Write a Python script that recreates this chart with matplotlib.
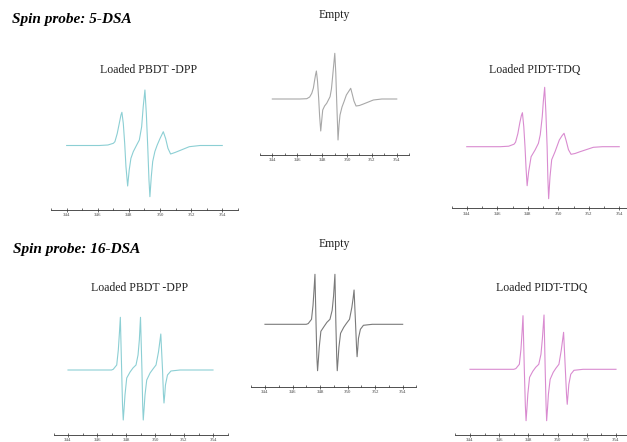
import matplotlib
matplotlib.use('Agg')
import matplotlib.pyplot as plt

# EPR spectra: field (mT) and intensity (arb. units)

# 5-DSA, loaded PBDT-DPP
field_5_pbdt = [344.0, 346.1, 346.65, 347.0, 347.1, 347.25, 347.38, 347.49, 347.55, 347.64,
                347.73, 347.81, 347.92, 348.02, 348.13, 348.28, 348.5, 348.67, 348.82, 348.92,
                349.03, 349.12, 349.21, 349.29, 349.35, 349.44, 349.53, 349.67, 349.82, 350.0,
                350.21, 350.36, 350.51, 350.68, 350.96, 351.28, 351.88, 352.57, 354.0]
int_5_pbdt = [0, 0, 0.5, 2.2, 3.8, 12, 22, 30.5, 33.2, 22,
              2, -21, -40.5, -24.5, -12.8, -6.2, 0.5, 5.5, 18.8, 38.8,
              55.5, 32, -1, -34.5, -51.2, -31, -16, -6, 0.5, 7,
              13.8, 7, -2.8, -8.5, -7, -5, -1.2, 0, 0]

# 5-DSA, empty
field_5_empty = [344.0, 346.2, 346.77, 347.0, 347.17, 347.3, 347.38, 347.47, 347.54, 347.63,
                 347.72, 347.8, 347.89, 347.98, 348.05, 348.2, 348.37, 348.64, 348.75, 348.82,
                 349.02, 349.1, 349.17, 349.24, 349.28, 349.36, 349.44, 349.6, 349.76, 349.95,
                 350.3, 350.42, 350.56, 350.73, 351.0, 351.32, 352.12, 352.8, 354.0]
int_5_empty = [0, 0, 0.3, 2, 5.7, 11, 17.3, 24, 28, 18,
               1.6, -17, -32, -20, -11, -7, -4.3, 2.3, 10, 19,
               45.7, 26, -1, -26, -41, -26, -16, -8, -2.7, 4,
               10.7, 5, -2, -7, -6.5, -5, -1, 0, 0]

# 5-DSA, loaded PIDT-TDQ
field_5_pidt = [344.0, 346.2, 346.75, 347.1, 347.2, 347.35, 347.48, 347.58, 347.65, 347.74,
                347.82, 347.89, 347.96, 348.06, 348.22, 348.48, 348.7, 348.82, 348.95, 349.02,
                349.11, 349.19, 349.27, 349.32, 349.37, 349.46, 349.57, 349.79, 350.07, 350.25,
                350.38, 350.52, 350.67, 350.84, 351.1, 351.43, 352.3, 352.9, 354.0]
int_5_pidt = [0, 0, 0.5, 2.5, 4.5, 13, 24, 31, 34, 20,
              0, -22, -39, -25, -10, -3.3, 3.4, 12, 30, 45,
              59.4, 34, 0, -32, -52, -30, -13, -5, 6.7, 11,
              13.4, 6, -3, -7.6, -6.8, -5, -0.6, 0, 0]

# 16-DSA, loaded PBDT-DPP
field_16_pbdt = [344.0, 347.0, 347.12, 347.36, 347.47, 347.55, 347.61, 347.7, 347.76, 347.81,
                 347.87, 347.93, 348.05, 348.28, 348.48, 348.69, 348.83, 348.92, 349.0, 349.1,
                 349.15, 349.19, 349.25, 349.31, 349.43, 349.66, 349.86, 350.07, 350.24, 350.33,
                 350.4, 350.52, 350.58, 350.62, 350.67, 350.72, 350.86, 351.1, 351.72, 354.0]
int_16_pbdt = [0, 0, 0.7, 5, 20, 38, 52.7, 0, -35, -50,
               -38, -25, -8, -2, 2, 5, 15, 30, 52.7, 0,
               -35, -50, -38, -25, -10, -3, 1, 5, 18, 28,
               36, 0, -24, -33, -25, -15, -5, -1, 0, 0]

# 16-DSA, empty
field_16_empty = [344.0, 347.0, 347.14, 347.38, 347.49, 347.57, 347.63, 347.71, 347.77, 347.82,
                  347.88, 347.94, 348.06, 348.3, 348.5, 348.72, 348.88, 348.98, 349.08, 349.15,
                  349.21, 349.25, 349.31, 349.37, 349.49, 349.72, 349.92, 350.14, 350.31, 350.4,
                  350.47, 350.58, 350.65, 350.69, 350.74, 350.79, 350.93, 351.15, 351.8, 354.0]
int_16_empty = [0, 0, 0.7, 5, 19, 36, 50, 0, -33, -46.4,
                -35, -23, -7, -2, 2, 5, 14, 28, 50, 0,
                -33, -46.4, -35, -23, -9, -3, 1, 5, 17, 26,
                34.3, 0, -23, -32.4, -24, -14, -5, -1, 0, 0]

# 16-DSA, loaded PIDT-TDQ
field_16_pidt = [344.0, 347.0, 347.14, 347.38, 347.49, 347.57, 347.63, 347.72, 347.79, 347.84,
                 347.9, 347.96, 348.08, 348.3, 348.5, 348.71, 348.86, 348.96, 349.07, 349.15,
                 349.21, 349.25, 349.31, 349.37, 349.49, 349.7, 349.88, 350.09, 350.25, 350.34,
                 350.41, 350.53, 350.61, 350.66, 350.71, 350.77, 350.9, 351.12, 351.75, 354.0]
int_16_pidt = [0, 0, 0.7, 5, 20, 38, 53.6, 0, -36, -51.4,
               -39, -25, -8, -2, 2, 5, 15, 31, 54.3, 0,
               -36, -51.4, -39, -25, -10, -3, 1, 5, 19, 29,
               37, 0, -25, -35, -26, -15, -5, -1, 0, 0]

titles = ['Loaded PBDT -DPP', 'Empty', 'Loaded PIDT-TDQ',
          'Loaded PBDT -DPP', 'Empty', 'Loaded PIDT-TDQ']
headings = ['Spin probe: 5-DSA', 'Spin probe: 16-DSA']
major_ticks = [344, 346, 348, 350, 352, 354]
minor_ticks = [343, 345, 347, 349, 351, 353, 355]

cyan = '#8ccfd4'
grey5 = '#a8a8a8'
grey16 = '#7a7a7a'
pink = '#d98bd0'

W, H = 627, 442
fig = plt.figure(figsize=(W / 100, H / 100), dpi=100)
serif = ['Liberation Serif', 'DejaVu Serif']

# panel placement in pixels: left edge (at 343), px per mT, axis line y, baseline y, title centre
panels = [
    (field_5_pbdt, int_5_pbdt, cyan, 51.1, 15.56, 210.0, 145.5, (149, 70)),
    (field_5_empty, int_5_empty, grey5, 259.9, 12.44, 155.0, 99.0, (334, 15)),
    (field_5_pidt, int_5_pidt, pink, 451.5, 15.25, 208.3, 146.7, (535, 70)),
    (field_16_pbdt, int_16_pbdt, cyan, 53.5, 14.5, 434.7, 370.0, (140, 288)),
    (field_16_empty, int_16_empty, grey16, 251.2, 13.77, 386.7, 324.3, (334, 244)),
    (field_16_pidt, int_16_pidt, pink, 455.4, 14.6, 435.0, 369.3, (542, 288)),
]

top_pad = 70
for (fx, fy, color, left, scale, axis_y, base_y, tpos), title in zip(panels, titles):
    width = 12 * scale
    below = axis_y - base_y
    height = below + top_pad
    ax = fig.add_axes([left / W, (H - axis_y) / H, width / W, height / H])
    ax.plot(fx, fy, color=color, lw=0.8)
    ax.set_xlim(343, 355)
    ax.set_ylim(-below, top_pad)
    for s in ['top', 'left', 'right']:
        ax.spines[s].set_visible(False)
    ax.spines['bottom'].set_linewidth(0.6)
    ax.spines['bottom'].set_color('#333333')
    ax.set_yticks([])
    ax.set_xticks(major_ticks)
    ax.set_xticks(minor_ticks, minor=True)
    ax.tick_params(axis='x', which='major', direction='inout', length=3, width=0.5,
                   color='#333333', labelsize=3.5, pad=1, labelcolor='#444444')
    ax.tick_params(axis='x', which='minor', direction='in', length=1.5, width=0.5,
                   color='#333333')
    for lab in ax.get_xticklabels():
        lab.set_family(serif)
    ax.patch.set_alpha(0)
    fig.text(tpos[0] / W, 1 - tpos[1] / H, title, ha='center', va='center',
             fontsize=8.5, family=serif, color='#222222')

fig.text(12 / W, 1 - 20 / H, headings[0], ha='left', va='center', fontsize=11,
         family=serif, weight='bold', style='italic')
fig.text(13 / W, 1 - 250 / H, headings[1], ha='left', va='center', fontsize=11,
         family=serif, weight='bold', style='italic')

fig.savefig('out.png', dpi=100)
